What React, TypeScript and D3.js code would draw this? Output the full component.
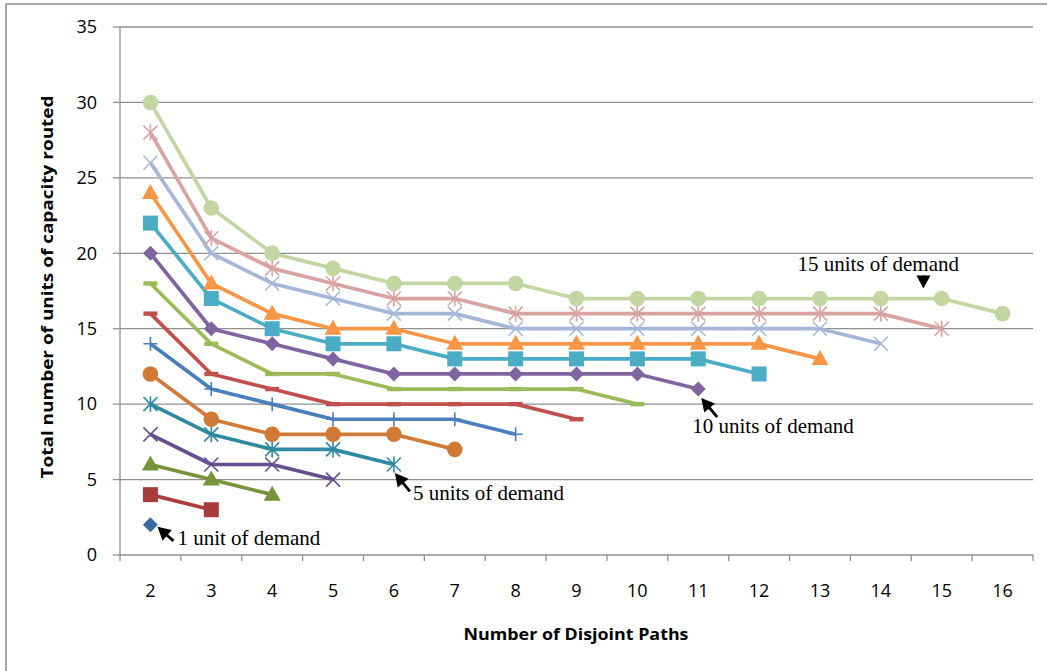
import React from "react";
import * as d3 from "d3";

// Number of disjoint paths (category axis)
const pathCounts = [2, 3, 4, 5, 6, 7, 8, 9, 10, 11, 12, 13, 14, 15, 16];
const yTicks = [0, 5, 10, 15, 20, 25, 30, 35];

// Capacity routed for each demand level, starting at 2 disjoint paths
const demand1 = [2];
const demand2 = [4, 3];
const demand3 = [6, 5, 4];
const demand4 = [8, 6, 6, 5];
const demand5 = [10, 8, 7, 7, 6];
const demand6 = [12, 9, 8, 8, 8, 7];
const demand7 = [14, 11, 10, 9, 9, 9, 8];
const demand8 = [16, 12, 11, 10, 10, 10, 10, 9];
const demand9 = [18, 14, 12, 12, 11, 11, 11, 11, 10];
const demand10 = [20, 15, 14, 13, 12, 12, 12, 12, 12, 11];
const demand11 = [22, 17, 15, 14, 14, 13, 13, 13, 13, 13, 12];
const demand12 = [24, 18, 16, 15, 15, 14, 14, 14, 14, 14, 14, 13];
const demand13 = [26, 20, 18, 17, 16, 16, 15, 15, 15, 15, 15, 15, 14];
const demand14 = [28, 21, 19, 18, 17, 17, 16, 16, 16, 16, 16, 16, 16, 15];
const demand15 = [30, 23, 20, 19, 18, 18, 18, 17, 17, 17, 17, 17, 17, 17, 16];

const seriesValues = [
  demand1, demand2, demand3, demand4, demand5, demand6, demand7, demand8,
  demand9, demand10, demand11, demand12, demand13, demand14, demand15,
];

const seriesColors = [
  "#3c69a3", "#a83d3b", "#77933c", "#664e8f", "#2f8aa1", "#d07a35",
  "#4a7ebb", "#c0504d", "#9bbb59", "#8064a2", "#4bacc6", "#f79646",
  "#a5b7d9", "#d9a3a2", "#c3d6a2",
];

const seriesMarkers = [
  "diamond", "square", "triangle", "x", "star", "circle", "plus", "dash",
  "dash", "diamond", "square", "triangle", "x", "star", "circle",
];

// Callouts: label, anchor point (paths, value), arrow tip/tail and text offsets
const callouts = [
  { label: "1 unit of demand", px: 2, py: 2, tip: [7, 2], tail: [23, 16], text: [27, 20] },
  { label: "5 units of demand", px: 6, py: 6, tip: [1, 8.5], tail: [16, 27], text: [19, 36] },
  { label: "10 units of demand", px: 11, py: 11, tip: [3, 9], tail: [19, 28], text: [-6, 44] },
  { label: "15 units of demand", px: 14.7, py: 17, tip: [0, -10], tail: [0, -23], text: [-126, -28] },
];

const W = 1047;
const H = 671;

const x = d3.scaleLinear().domain([1.5, 16.5]).range([120, 1033]);
const y = d3.scaleLinear().domain([0, 35]).range([555, 27]);

const line = d3
  .line<number>()
  .x((_, i) => x(pathCounts[i]))
  .y((d) => y(d));

function Marker({ kind, cx, cy, color }: { kind: string; cx: number; cy: number; color: string }) {
  switch (kind) {
    case "diamond": {
      const s = 7.5;
      return <path d={`M${cx},${cy - s}L${cx + s},${cy}L${cx},${cy + s}L${cx - s},${cy}Z`} fill={color} />;
    }
    case "square":
      return <rect x={cx - 7.5} y={cy - 7.5} width={15} height={15} fill={color} />;
    case "triangle":
      return <path d={`M${cx},${cy - 9}L${cx + 8.5},${cy + 6}L${cx - 8.5},${cy + 6}Z`} fill={color} />;
    case "circle":
      return <circle cx={cx} cy={cy} r={7.8} fill={color} />;
    case "x": {
      const s = 7;
      return (
        <path d={`M${cx - s},${cy - s}L${cx + s},${cy + s}M${cx - s},${cy + s}L${cx + s},${cy - s}`} stroke={color} strokeWidth={1.6} fill="none" />
      );
    }
    case "star": {
      const s = 7;
      return (
        <path
          d={`M${cx - s},${cy - s}L${cx + s},${cy + s}M${cx - s},${cy + s}L${cx + s},${cy - s}M${cx},${cy - s - 1}L${cx},${cy + s + 1}`}
          stroke={color}
          strokeWidth={1.6}
          fill="none"
        />
      );
    }
    case "plus": {
      const s = 7;
      return <path d={`M${cx - s},${cy}L${cx + s},${cy}M${cx},${cy - s}L${cx},${cy + s}`} stroke={color} strokeWidth={1.6} fill="none" />;
    }
    case "dash":
      return <rect x={cx - 7} y={cy - 2.2} width={14} height={4.4} fill={color} />;
    default:
      return null;
  }
}

function Arrow({ x1, y1, x2, y2 }: { x1: number; y1: number; x2: number; y2: number }) {
  // tail (x1,y1) -> tip (x2,y2)
  const dx = x2 - x1;
  const dy = y2 - y1;
  const len = Math.hypot(dx, dy);
  const ux = dx / len;
  const uy = dy / len;
  const headL = 13;
  const headW = 7;
  const bx = x2 - ux * headL;
  const by = y2 - uy * headL;
  return (
    <g>
      <line x1={x1} y1={y1} x2={bx + ux} y2={by + uy} stroke="#000" strokeWidth={2.8} />
      <path d={`M${x2},${y2}L${bx - uy * headW},${by + ux * headW}L${bx + uy * headW},${by - ux * headW}Z`} fill="#000" />
    </g>
  );
}

export default function App() {
  return (
    <svg
      width={W}
      height={H}
      viewBox={`0 0 ${W} ${H}`}
      style={{ position: "absolute", left: 0, top: 0, display: "block", background: "#fff" }}
    >
      {/* chart frame */}
      <rect x={6} y={4} width={1060} height={690} fill="#fff" stroke="#8c8c8c" strokeWidth={1.5} />

      {/* horizontal gridlines */}
      {yTicks
        .filter((t) => t > 0)
        .map((t) => (
          <line key={`g${t}`} x1={x(1.5)} x2={x(16.5)} y1={y(t)} y2={y(t)} stroke="#8f8f8f" strokeWidth={1.3} />
        ))}

      {/* y axis */}
      <line x1={x(1.5)} x2={x(1.5)} y1={y(35)} y2={y(0)} stroke="#8f8f8f" strokeWidth={1.3} />
      {yTicks.map((t) => (
        <g key={`yt${t}`}>
          <line x1={x(1.5) - 7} x2={x(1.5)} y1={y(t)} y2={y(t)} stroke="#8f8f8f" strokeWidth={1.3} />
          <text x={97} y={y(t)} dy="0.35em" textAnchor="end" fontFamily="'Open Sans', sans-serif" fontSize={18} fill="#000">
            {t}
          </text>
        </g>
      ))}

      {/* x axis */}
      <line x1={x(1.5)} x2={x(16.5)} y1={y(0)} y2={y(0)} stroke="#8f8f8f" strokeWidth={1.3} />
      {d3.range(1.5, 17, 1).map((b) => (
        <line key={`xt${b}`} x1={x(b)} x2={x(b)} y1={y(0)} y2={y(0) + 6} stroke="#8f8f8f" strokeWidth={1.3} />
      ))}
      {pathCounts.map((p) => (
        <text key={`xl${p}`} x={x(p)} y={597} textAnchor="middle" fontFamily="'Open Sans', sans-serif" fontSize={18} fill="#000">
          {p}
        </text>
      ))}

      {/* axis titles */}
      <text
        x={576}
        y={640}
        textAnchor="middle"
        fontFamily="'Open Sans', sans-serif"
        fontWeight="bold"
        fontSize={16}
        textLength={225}
        lengthAdjust="spacingAndGlyphs"
      >
        Number of Disjoint Paths
      </text>
      <text
        transform="translate(53,287) rotate(-90)"
        textAnchor="middle"
        fontFamily="'Open Sans', sans-serif"
        fontWeight="bold"
        fontSize={16}
        textLength={383}
        lengthAdjust="spacingAndGlyphs"
      >
        Total number of units of capacity routed
      </text>

      {/* series lines */}
      {seriesValues.map((vals, si) => (
        <path
          key={`l${si}`}
          d={line(vals) || ""}
          fill="none"
          stroke={seriesColors[si]}
          strokeWidth={3.7}
          strokeLinejoin="round"
          strokeLinecap="butt"
        />
      ))}
      {seriesValues.map((vals, si) => (
        <g key={`m${si}`}>
          {vals.map((v, i) => (
            <Marker key={i} kind={seriesMarkers[si]} cx={x(pathCounts[i])} cy={y(v)} color={seriesColors[si]} />
          ))}
        </g>
      ))}

      {/* callouts */}
      {callouts.map((c) => {
        const ax = x(c.px);
        const ay = y(c.py);
        return (
          <g key={c.label}>
            <Arrow x1={ax + c.tail[0]} y1={ay + c.tail[1]} x2={ax + c.tip[0]} y2={ay + c.tip[1]} />
            <text
              x={ax + c.text[0]}
              y={ay + c.text[1]}
              fontFamily="'Liberation Serif', 'Times New Roman', serif"
              fontSize={21}
              fill="#000"
            >
              {c.label}
            </text>
          </g>
        );
      })}
    </svg>
  );
}
